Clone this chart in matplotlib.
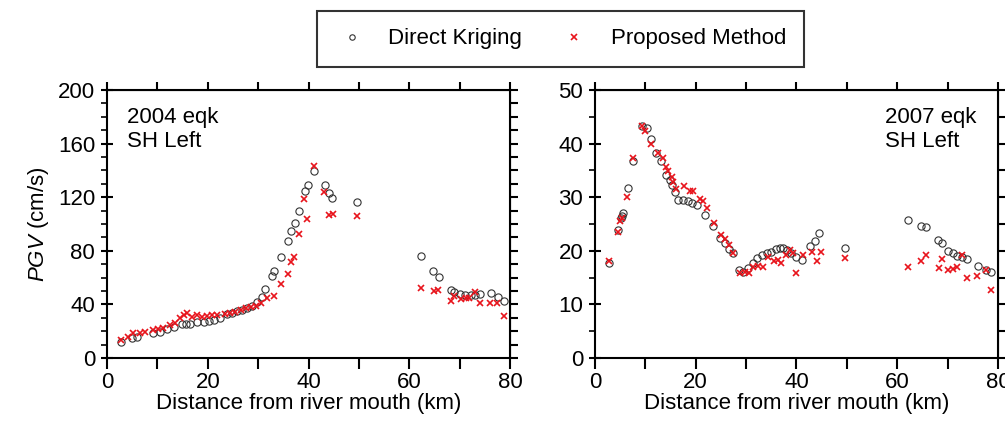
import matplotlib

matplotlib.use("Agg")
import matplotlib.pyplot as plt
from matplotlib.ticker import MultipleLocator

plt.rcParams["font.family"] = ["Liberation Sans", "DejaVu Sans"]
plt.rcParams["mathtext.fontset"] = "custom"
plt.rcParams["mathtext.it"] = "Liberation Sans:italic"
plt.rcParams["mathtext.rm"] = "Liberation Sans"

FS = 16

# 2004 eqk, SH Left
dk04_x = [2.7, 4.9, 5.9, 9.2, 10.5, 11.9, 13.2, 14.8, 15.7, 16.5, 17.8, 19.2, 20.2,
          21.2, 22.5, 23.8, 24.8, 25.8, 26.8, 27.8, 28.8, 29.8, 30.8, 31.3, 32.8,
          33.2, 34.6, 36.0, 36.6, 37.3, 38.1, 39.3, 39.9, 41.0, 43.2, 44.1, 44.7,
          49.7, 62.4, 64.8, 65.8, 68.3, 68.9, 70.1, 71.1, 72.2, 73.0, 74.1, 76.2,
          77.7, 78.9]
dk04_y = [12.2, 14.7, 15.9, 18.4, 19.7, 21.4, 23.4, 25.1, 25.1, 25.4, 26.6, 27.1, 27.9,
          28.4, 30.1, 32.8, 33.8, 34.9, 35.8, 37.0, 38.8, 42.0, 45.8, 51.2, 61.2,
          65.2, 75.1, 87.5, 94.8, 100.5, 109.7, 124.6, 129.1, 139.8, 129.1, 123.4, 119.2,
          116.2, 76.3, 64.9, 60.7, 50.7, 49.5, 47.8, 47.0, 46.8, 46.8, 47.8, 48.3,
          45.8, 42.5]
pm04_x = [2.7, 4.2, 5.2, 6.6, 7.6, 9.2, 10.2, 11.2, 12.5, 13.5, 14.5, 15.2, 15.9,
          16.8, 17.8, 18.8, 19.8, 20.8, 21.8, 23.5, 24.5, 25.5, 26.5, 27.5, 28.5,
          29.5, 30.6, 31.8, 33.1, 34.6, 35.9, 36.6, 37.1, 38.1, 39.7, 39.1, 41.1,
          43.0, 44.0, 44.8, 49.6, 62.3, 64.9, 65.7, 68.3, 68.9, 70.2, 71.2, 71.9,
          73.0, 74.0, 76.1, 77.5, 78.9]
pm04_y = [13.0, 15.9, 18.4, 18.9, 19.7, 20.9, 21.4, 22.1, 24.6, 25.8, 29.6, 32.1, 33.3,
          30.8, 32.1, 30.3, 31.3, 32.1, 32.1, 32.8, 33.8, 34.6, 35.8, 37.0, 37.8,
          38.8, 40.8, 44.5, 46.3, 55.0, 62.7, 71.9, 75.6, 92.2, 103.7, 118.4, 143.5,
          123.6, 106.7, 107.5, 106.0, 52.5, 50.0, 50.5, 42.8, 46.5, 44.0, 44.5, 45.0,
          49.5, 40.8, 41.3, 41.3, 31.3]

# 2007 eqk, SH Left
dk07_x = [2.8, 4.6, 5.2, 5.3, 5.5, 6.5, 7.6, 9.3, 10.3, 11.1, 12.2, 13.2, 14.2, 14.9,
          15.2, 15.9, 16.5, 17.4, 18.4, 19.3, 20.2, 21.8, 23.5, 24.9, 25.8, 26.6,
          27.4, 28.6, 29.4, 30.4, 31.3, 32.2, 33.1, 34.1, 34.9, 35.9, 36.7, 37.4,
          38.2, 39.0, 40.0, 41.0, 42.7, 43.7, 44.5, 49.6, 62.2, 64.8, 65.7, 68.1,
          68.8, 70.1, 71.1, 71.9, 72.8, 73.8, 76.1, 77.6, 78.7]
dk07_y = [17.8, 23.9, 26.1, 26.5, 27.1, 31.8, 36.8, 43.3, 43.0, 40.8, 38.2, 36.7, 34.1,
          33.2, 32.3, 31.0, 29.5, 29.5, 29.2, 29.0, 28.5, 26.7, 24.6, 22.3, 21.4, 20.4,
          19.5, 16.4, 16.1, 16.7, 17.8, 18.6, 19.2, 19.5, 19.8, 20.3, 20.6, 20.6,
          20.1, 19.5, 18.9, 18.3, 20.8, 21.9, 23.4, 20.5, 25.7, 24.7, 24.4, 22.0,
          21.4, 20.0, 19.5, 19.1, 18.8, 18.4, 17.2, 16.4, 16.1]
pm07_x = [2.8, 4.6, 5.0, 5.3, 6.4, 7.6, 9.3, 10.0, 11.1, 12.6, 13.6, 14.2, 14.5, 15.2,
          15.5, 16.0, 17.7, 18.8, 19.5, 20.8, 21.5, 22.2, 23.7, 25.0, 25.8, 26.6,
          27.4, 28.8, 29.8, 30.6, 31.4, 32.4, 33.3, 34.4, 35.5, 36.4, 36.9, 37.9,
          38.7, 39.3, 39.9, 41.2, 43.0, 44.0, 44.8, 49.6, 62.2, 64.8, 65.7, 68.3,
          68.8, 70.1, 71.0, 71.9, 72.8, 73.9, 75.9, 77.6, 78.7]
pm07_y = [18.0, 23.5, 25.5, 26.1, 30.1, 37.3, 43.2, 42.4, 40.0, 38.2, 37.3, 35.7, 34.8,
          33.8, 32.9, 31.6, 32.1, 31.2, 31.2, 29.6, 29.2, 27.9, 25.1, 22.9, 22.1, 21.1,
          19.5, 15.9, 16.1, 15.8, 17.0, 17.2, 17.0, 18.8, 18.0, 18.3, 17.7, 19.2,
          20.1, 19.5, 15.8, 19.2, 19.7, 18.0, 19.7, 18.7, 17.0, 18.0, 19.3, 16.7,
          18.5, 16.5, 16.6, 17.0, 19.2, 14.9, 15.2, 16.4, 12.7]

panels = [
    ("2004 eqk\nSH Left", dk04_x, dk04_y, pm04_x, pm04_y, 200, 40, 10, 0.05),
    ("2007 eqk\nSH Left", dk07_x, dk07_y, pm07_x, pm07_y, 50, 10, 5, 0.72),
]

fig = plt.figure(figsize=(10.05, 4.37), dpi=100)
axes = [fig.add_axes([0.1065, 0.181, 0.401, 0.613]),
        fig.add_axes([0.592, 0.181, 0.401, 0.613])]

for ax, (label, dx, dy, px, py, ymax, ymaj, ymin, tx) in zip(axes, panels):
    ax.plot(dx, dy, "o", ms=5.2, mfc="none", mec="#333333", mew=0.8,
            label="Direct Kriging", clip_on=False)
    ax.plot(px, py, "x", ms=5, color="#e8141c", mew=1.2,
            label="Proposed Method", clip_on=False)
    ax.set_xlim(0, 80)
    ax.set_ylim(0, ymax)
    ax.xaxis.set_major_locator(MultipleLocator(20))
    ax.xaxis.set_minor_locator(MultipleLocator(10))
    ax.yaxis.set_major_locator(MultipleLocator(ymaj))
    ax.yaxis.set_minor_locator(MultipleLocator(ymin))
    ax.tick_params(axis="x", which="both", direction="out", length=8, width=1.5,
                   labelsize=FS, pad=2)
    ax.tick_params(axis="y", which="major", direction="inout", length=9, width=1.5,
                   labelsize=FS, pad=4)
    ax.tick_params(axis="y", which="minor", direction="out", length=4, width=1.2)
    for s in ax.spines.values():
        s.set_linewidth(1.5)
    top = ax.secondary_xaxis("top")
    top.xaxis.set_major_locator(MultipleLocator(10))
    top.tick_params(direction="out", length=6, width=1.5, labeltop=False)
    right = ax.secondary_yaxis("right")
    right.yaxis.set_major_locator(MultipleLocator(ymin if ymax == 50 else 10))
    right.tick_params(direction="out", length=6, width=1.5, labelright=False)
    ax.set_xlabel("Distance from river mouth (km)", fontsize=FS, labelpad=0)
    ax.text(tx, 0.935, label, transform=ax.transAxes, fontsize=FS,
            va="top", ha="left", linespacing=1.15)

axes[0].set_ylabel(r"$\it{PGV}$ (cm/s)", fontsize=FS, labelpad=5)

handles, labels = axes[0].get_legend_handles_labels()
leg = fig.legend(handles, labels, loc="center", bbox_to_anchor=(0.558, 0.911),
                 ncol=2, fontsize=FS, frameon=True, fancybox=False,
                 markerscale=0.75, handlelength=1.5, columnspacing=1.6,
                 borderpad=0.8, handletextpad=0.9)
leg.get_frame().set_edgecolor("black")
leg.get_frame().set_linewidth(1.5)

fig.savefig("out.png", dpi=100)
